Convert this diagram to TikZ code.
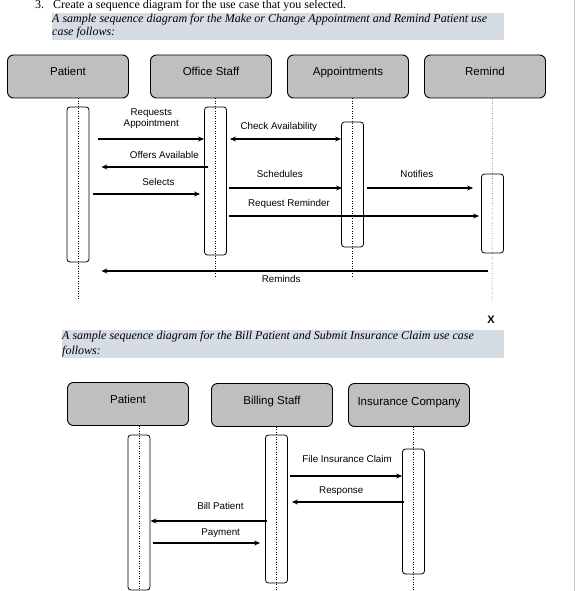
\documentclass[tikz,border=0pt]{standalone}
\usepackage{fontspec}
\setmainfont{Liberation Serif}
\setsansfont{Liberation Sans}
\usetikzlibrary{positioning,arrows.meta}
\definecolor{hilite}{RGB}{214,220,228}

\begin{document}
\begin{tikzpicture}[
        x=1pt, y=-1pt,
        actor/.style={
                rectangle,
                rounded corners=6pt,
                draw=black,
                fill=black!25,
                line width=0.9pt,
                minimum width=121pt,
                minimum height=43pt,
                font=\fontsize{11.5}{13}\sffamily,
                text height=8.5pt,
                text depth=10.5pt
            },
        act/.style={
                rectangle,
                rounded corners=3pt,
                draw=black,
                fill=white,
                line width=0.8pt,
                minimum width=22pt
            },
        life/.style={dotted, line width=0.5pt},
        msg/.style={line width=2pt},
        lbl/.style={font=\fontsize{9.8}{11}\sffamily, inner sep=0pt, text depth=0pt, align=center},
        note/.style={font=\fontsize{12}{14}\selectfont\itshape, anchor=base west, inner sep=0pt},
        task/.style={font=\fontsize{12}{14}\selectfont, anchor=base west, inner sep=0pt},
        >={Stealth[length=6pt,width=5pt]}
    ]
    \useasboundingbox (0,0) rectangle (577,591);
    \draw[black!20, line width=1pt] (574,0) -- (574,591);

    % first use case
    \node[task] (num) at (35,9) {3.};
    \node[task] (ask) at (53,9) {Create a sequence diagram for the use case that you selected.};
    \fill[hilite] (52,13) rectangle (504,40);
    \node[note] (intro) at (52,23) {A sample sequence diagram for the Make or Change Appointment and Remind Patient use};
    \node[note] (introb) at (52,36) {case follows:};

    \node[actor] (pat) at (68,76.5) {Patient};
    \node[actor] (off) at (211,76.5) {Office Staff};
    \node[actor] (app) at (348,76.5) {Appointments};
    \node[actor] (rem) at (485,76.5) {Remind};

    \node[act, minimum height=155pt] (patact) at (78,184.5) {};
    \node[act, minimum height=148pt] (offact) at (215.5,181) {};
    \node[act, minimum height=125pt] (appact) at (352.5,184.5) {};
    \node[act, minimum height=79pt] (remact) at (492.5,213.5) {};

    \coordinate (patend) at (78,300);
    \coordinate (offend) at (215.5,277);
    \coordinate (append) at (352.5,277);
    \coordinate (remend) at (492,302);
    \draw[life] (patact.center |- pat.south) -- (patend);
    \draw[life] (offact.center |- off.south) -- (offend);
    \draw[life] (appact.center |- app.south) -- (append);
    \draw[life] (remact.center |- rem.south) -- (remend);
    \node[font=\fontsize{11}{13}\sffamily\bfseries, inner sep=0pt] (kill) at (491,320) {X};

    \draw[msg,->] ([xshift=9pt]patact.east |- 0,139) -- (offact.west |- 0,139)
        node[lbl, midway, above=11pt] {Requests\\Appointment};
    \draw[msg,->] ([xshift=4pt]offact.west |- 0,167) -- ([xshift=12pt]patact.east |- 0,167)
        node[lbl, pos=.41, above=7.5pt] {Offers Available};
    \draw[msg,->] ([xshift=4pt]patact.east |- 0,194) -- ([xshift=-4pt]offact.west |- 0,194)
        node[lbl, pos=.61, above=7.5pt] {Selects};
    \draw[msg,<->] ([xshift=3pt]offact.east |- 0,139) -- (appact.west |- 0,139)
        node[lbl, pos=.44, above=8.5pt] {Check Availability};
    \draw[msg,->] ([xshift=2pt]offact.east |- 0,188) -- ([xshift=1pt]appact.west |- 0,188)
        node[lbl, pos=.45, above=10pt] {Schedules};
    \draw[msg,->] ([xshift=3pt]appact.east |- 0,188) -- ([xshift=-8pt]remact.west |- 0,188)
        node[lbl, pos=.47, above=10pt] {Notifies};
    \draw[msg,->] ([xshift=2pt]offact.east |- 0,216) -- ([xshift=-2pt]remact.west |- 0,216)
        node[lbl, pos=.24, above=9pt] {Request Reminder};
    \coordinate (remfrom) at (488,271);
    \draw[msg,->] (remfrom) -- ([xshift=12pt]patact.east |- remfrom)
        node[lbl, pos=.535, below=3pt] {Reminds};

    % second use case
    \fill[hilite] (62,330) rectangle (504,358);
    \node[note] (intro2) at (62,339) {A sample sequence diagram for the Bill Patient and Submit Insurance Claim use case};
    \node[note] (intro2b) at (62,354) {follows:};

    \node[actor] (pat2) at (128,404) {Patient};
    \node[actor] (bil) at (272,405) {Billing Staff};
    \node[actor, text depth=8pt] (ins) at (409,405) {Insurance Company};

    \node[act, minimum height=155pt] (patact2) at (139,512.5) {};
    \node[act, minimum height=148pt] (bilact) at (276.5,509) {};
    \node[act, minimum height=125pt] (insact) at (413.5,511.5) {};

    \coordinate (patend2) at (139,591);
    \coordinate (bilend) at (276.5,591);
    \coordinate (insend) at (413.5,591);
    \draw[life] (patact2.center |- pat2.south) -- (patend2);
    \draw[life] (bilact.center |- bil.south) -- (bilend);
    \draw[life] (insact.center |- ins.south) -- (insend);

    \draw[msg,->] ([xshift=2pt]bilact.east |- 0,476) -- (insact.west |- 0,476)
        node[lbl, pos=.51, above=13pt] {File Insurance Claim};
    \draw[msg,->] ([xshift=2pt]insact.west |- 0,502) -- ([xshift=4pt]bilact.east |- 0,502)
        node[lbl, pos=.56, above=7.5pt] {Response};
    \draw[msg,->] ([xshift=2pt]bilact.west |- 0,521) -- (patact2.east |- 0,521)
        node[lbl, pos=.4, above=11pt] {Bill Patient};
    \draw[msg,->] ([xshift=3pt]patact2.east |- 0,543) -- ([xshift=-5pt]bilact.west |- 0,543)
        node[lbl, pos=.63, above=6.5pt] {Payment};
\end{tikzpicture}
\end{document}
